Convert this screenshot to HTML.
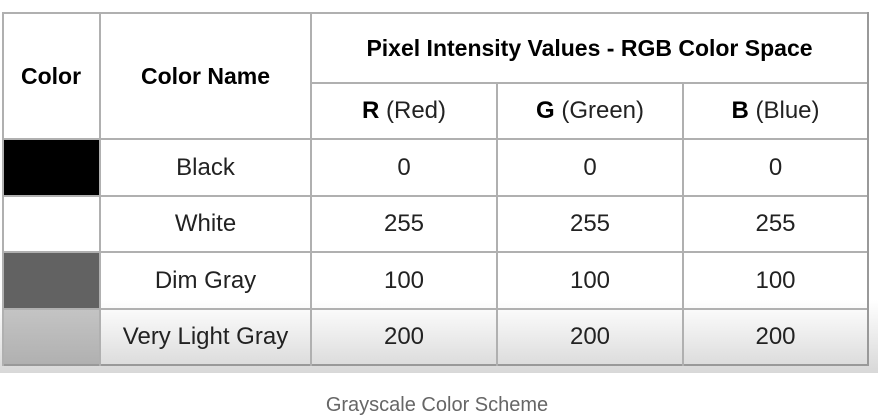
<!DOCTYPE html>
<html><head><style>
body{margin:0;width:891px;height:417px;background:#fff;position:relative;font-family:"Liberation Sans",sans-serif;overflow:hidden}
.bg{position:absolute;left:0;top:0;width:878px;height:373px;background:linear-gradient(#fff 0,#fff 300px,#d8d8d8 373px)}
.c{position:absolute;display:flex;align-items:center;justify-content:center;font-size:24px;color:#222;box-sizing:border-box;white-space:nowrap}
.t{font-size:23px;font-weight:bold;color:#000}
.h{position:absolute;background:#b0b0b0;height:2px}
.v{position:absolute;background:#b0b0b0;width:2px}
b{color:#000}
</style></head><body>
<div class="bg"></div>
<div style="position:absolute;left:2px;top:309px;width:866px;height:56px;background:linear-gradient(#fbfbfb,#dcdcdc)"></div>
<div style="position:absolute;left:2px;top:139px;width:98px;height:57px;background:#000"></div>
<div style="position:absolute;left:2px;top:252px;width:98px;height:57px;background:#626262"></div>
<div style="position:absolute;left:2px;top:309px;width:98px;height:56px;background:linear-gradient(#c4c4c4,#b0b0b0)"></div>
<div class="h" style="left:2px;top:12px;width:866px"></div>
<div class="h" style="left:311px;top:82px;width:557px"></div>
<div class="h" style="left:2px;top:138px;width:866px"></div>
<div class="h" style="left:2px;top:195px;width:866px"></div>
<div class="h" style="left:2px;top:251px;width:866px"></div>
<div class="h" style="left:2px;top:308px;width:866px"></div>
<div class="h" style="left:2px;top:364px;width:866px;background:#999"></div>
<div class="v" style="left:2px;top:12px;height:354px"></div>
<div class="v" style="left:99px;top:12px;height:354px"></div>
<div class="v" style="left:310px;top:12px;height:354px"></div>
<div class="v" style="left:496px;top:82px;height:284px"></div>
<div class="v" style="left:682px;top:82px;height:284px"></div>
<div class="v" style="left:867px;top:12px;height:354px;background:#999"></div>
<div class="c t" style="left:2px;top:13px;width:98px;height:126px">Color</div>
<div class="c t" style="left:100px;top:13px;width:211px;height:126px">Color Name</div>
<div class="c t" style="left:311px;top:13px;width:557px;height:70px">Pixel Intensity Values - RGB Color Space</div>
<div class="c" style="left:311px;top:83px;width:186px;height:56px"><b>R</b>&nbsp;(Red)</div>
<div class="c" style="left:497px;top:83px;width:186px;height:56px"><b>G</b>&nbsp;(Green)</div>
<div class="c" style="left:683px;top:83px;width:185px;height:56px"><b>B</b>&nbsp;(Blue)</div>
<div class="c" style="left:100px;top:139px;width:211px;height:57px">Black</div>
<div class="c" style="left:311px;top:139px;width:186px;height:57px">0</div>
<div class="c" style="left:497px;top:139px;width:186px;height:57px">0</div>
<div class="c" style="left:683px;top:139px;width:185px;height:57px">0</div>
<div class="c" style="left:100px;top:196px;width:211px;height:56px">White</div>
<div class="c" style="left:311px;top:196px;width:186px;height:56px">255</div>
<div class="c" style="left:497px;top:196px;width:186px;height:56px">255</div>
<div class="c" style="left:683px;top:196px;width:185px;height:56px">255</div>
<div class="c" style="left:100px;top:252px;width:211px;height:57px">Dim Gray</div>
<div class="c" style="left:311px;top:252px;width:186px;height:57px">100</div>
<div class="c" style="left:497px;top:252px;width:186px;height:57px">100</div>
<div class="c" style="left:683px;top:252px;width:185px;height:57px">100</div>
<div class="c" style="left:100px;top:309px;width:211px;height:56px">Very Light Gray</div>
<div class="c" style="left:311px;top:309px;width:186px;height:56px">200</div>
<div class="c" style="left:497px;top:309px;width:186px;height:56px">200</div>
<div class="c" style="left:683px;top:309px;width:185px;height:56px">200</div>
<div class="c" style="left:0;top:391px;width:874px;height:28px;font-size:20px;color:#666">Grayscale Color Scheme</div>
</body></html>
